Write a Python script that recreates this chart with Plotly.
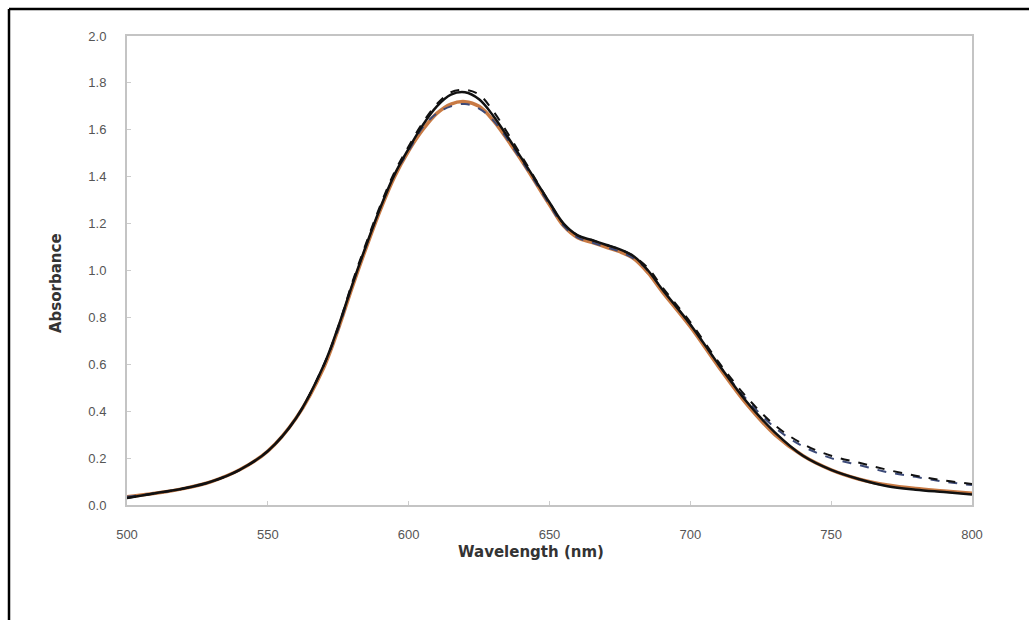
import plotly.graph_objects as go

wavelength = [500, 510, 520, 530, 540, 550, 560, 570, 575, 580, 585, 590, 595, 600, 605, 610, 615,
              620, 625, 630, 640, 650, 655, 660, 665, 670, 675, 680, 685, 690, 700, 710,
              720, 730, 740, 750, 760, 770, 780, 790, 800]

solid_black = [0.03, 0.05, 0.07, 0.10, 0.15, 0.23, 0.37, 0.60, 0.76, 0.94, 1.11, 1.27, 1.41, 1.52, 1.62, 1.70, 1.75,
               1.76, 1.73, 1.66, 1.48, 1.29, 1.20, 1.15, 1.13, 1.11, 1.09, 1.06, 1.00, 0.92, 0.77, 0.60,
               0.44, 0.31, 0.21, 0.15, 0.11, 0.08, 0.065, 0.055, 0.045]

solid_orange = [0.035, 0.05, 0.07, 0.10, 0.15, 0.23, 0.37, 0.59, 0.75, 0.93, 1.10, 1.26, 1.40, 1.51, 1.60, 1.67, 1.71,
                1.72, 1.70, 1.64, 1.47, 1.28, 1.19, 1.14, 1.12, 1.10, 1.08, 1.05, 0.99, 0.91, 0.76, 0.59,
                0.43, 0.30, 0.21, 0.15, 0.11, 0.085, 0.07, 0.06, 0.05]

dashed_black = [0.03, 0.05, 0.07, 0.10, 0.15, 0.23, 0.37, 0.60, 0.76, 0.95, 1.12, 1.28, 1.42, 1.53, 1.63, 1.71, 1.76,
                1.77, 1.75, 1.68, 1.49, 1.29, 1.20, 1.15, 1.13, 1.11, 1.09, 1.06, 1.01, 0.93, 0.78, 0.61,
                0.46, 0.34, 0.26, 0.21, 0.18, 0.15, 0.125, 0.105, 0.09]

dashed_blue = [0.035, 0.05, 0.07, 0.10, 0.15, 0.23, 0.37, 0.60, 0.75, 0.94, 1.11, 1.27, 1.41, 1.51, 1.61, 1.67, 1.70,
               1.71, 1.69, 1.64, 1.47, 1.28, 1.19, 1.14, 1.12, 1.10, 1.08, 1.05, 1.00, 0.92, 0.77, 0.60,
               0.45, 0.33, 0.25, 0.20, 0.17, 0.14, 0.12, 0.10, 0.085]

x_ticks = [500, 550, 600, 650, 700, 750, 800]
y_ticks = [0.0, 0.2, 0.4, 0.6, 0.8, 1.0, 1.2, 1.4, 1.6, 1.8, 2.0]
x_title = "Wavelength (nm)"
y_title = "Absorbance"

fig = go.Figure()
fig.add_trace(go.Scatter(x=wavelength, y=solid_orange, mode="lines", line=dict(color="#c87a44", width=3.5), line_shape="spline", showlegend=False))
fig.add_trace(go.Scatter(x=wavelength, y=dashed_blue, mode="lines", line=dict(color="#3c4a78", width=2, dash="dash"), line_shape="spline", showlegend=False))
fig.add_trace(go.Scatter(x=wavelength, y=dashed_black, mode="lines", line=dict(color="#111111", width=2, dash="dash"), line_shape="spline", showlegend=False))
fig.add_trace(go.Scatter(x=wavelength, y=solid_black, mode="lines", line=dict(color="#111111", width=2.5), line_shape="spline", showlegend=False))

L, R, T, B = 127, 972, 36, 505
W, H = 1029, 620
pw, ph = R - L, B - T

def px(xp):
    return (xp - L) / pw

def py(yp):
    return (B - yp) / ph

tickfont = dict(size=13, color="#555555", family="Liberation Sans, Arial, sans-serif")
fig.update_layout(
    width=W, height=H,
    margin=dict(l=L, r=W - R, t=T, b=H - B, autoexpand=False),
    paper_bgcolor="white", plot_bgcolor="white",
    font=dict(family="Liberation Sans, Arial, sans-serif", color="#222"),
    xaxis=dict(range=[500, 800], tickvals=x_ticks, ticktext=[str(v) for v in x_ticks],
               showgrid=False, zeroline=False, showline=True, linecolor="#c4c4c4", linewidth=2,
               mirror=True, ticks="inside", ticklen=4, tickcolor="#cccccc",
               tickfont=tickfont, ticklabelstandoff=16),
    yaxis=dict(range=[0, 2.0], tickvals=y_ticks, ticktext=[f"{v:.1f}" for v in y_ticks],
               showgrid=False, zeroline=False, showline=True, linecolor="#c4c4c4", linewidth=2,
               mirror=True, ticks="inside", ticklen=4, tickcolor="#cccccc",
               tickfont=tickfont, ticklabelstandoff=16),
    annotations=[
        dict(text=f"<b>{x_title}</b>", xref="paper", yref="paper", x=px(531), y=py(552),
             xanchor="center", yanchor="middle", showarrow=False,
             font=dict(size=15, color="#333333", family="DejaVu Sans, sans-serif")),
        dict(text=f"<b>{y_title}</b>", xref="paper", yref="paper", x=px(56), y=py(283),
             xanchor="center", yanchor="middle", showarrow=False, textangle=-90,
             font=dict(size=15, color="#333333", family="DejaVu Sans, sans-serif")),
    ],
    shapes=[
        dict(type="line", xref="paper", yref="paper", x0=px(9), x1=px(9), y0=py(9), y1=py(640),
             line=dict(color="black", width=2.5)),
        dict(type="line", xref="paper", yref="paper", x0=px(9), x1=px(1040), y0=py(9), y1=py(9),
             line=dict(color="black", width=2.5)),
    ],
)

fig.write_html("out.html")
